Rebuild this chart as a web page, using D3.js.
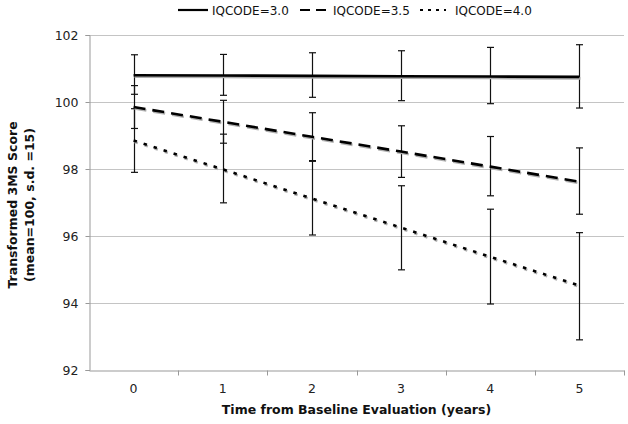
<!DOCTYPE html>
<html><head><meta charset="utf-8">
<script src="https://cdn.jsdelivr.net/npm/d3@7"></script>
<style>body{margin:0;background:#fff}svg{display:block}text{font-family:"DejaVu Sans",Verdana,sans-serif}</style>
</head><body><svg id="c" width="628" height="424"></svg>
<script>
const years = ["0","1","2","3","4","5"];
const yTicks = [92,94,96,98,100,102];
const seriesNames = ["IQCODE=3.0","IQCODE=3.5","IQCODE=4.0"];
const mean30 = [100.80,100.79,100.78,100.77,100.76,100.75];
const lo30   = [100.23,100.20,100.14,100.04,99.95,99.82];
const hi30   = [101.41,101.42,101.47,101.53,101.63,101.71];
const mean35 = [99.85,99.41,98.96,98.52,98.07,97.62];
const lo35   = [99.21,98.77,98.23,97.75,97.20,96.65];
const hi35   = [100.49,100.05,99.68,99.29,98.97,98.63];
const mean40 = [98.85,97.99,97.12,96.25,95.38,94.52];
const lo40   = [97.90,96.99,96.03,94.99,93.97,92.90];
const hi40   = [99.80,99.04,98.25,97.50,96.80,96.10];

const series = [
  {name:seriesNames[0], mean:mean30, lo:lo30, hi:hi30, dash:null},
  {name:seriesNames[1], mean:mean35, lo:lo35, hi:hi35, dash:"12,7"},
  {name:seriesNames[2], mean:mean40, lo:lo40, hi:hi40, dash:"3.5,7"}
];

const svg = d3.select("#c");
const L=89, R=624, T=35, B=370;
const x = d3.scaleBand().domain(years).range([L,R]);
const y = d3.scaleLinear().domain([92,102]).range([B,T]);

// gridlines
svg.append("g").selectAll("line").data(yTicks.filter(d=>d>92)).join("line")
  .attr("x1",L).attr("x2",R).attr("y1",d=>y(d)+0.5).attr("y2",d=>y(d)+0.5)
  .attr("stroke","#c4c4c4").attr("stroke-width",1);

// y axis
const ya = svg.append("g").attr("transform",`translate(${L+0.5},0)`)
  .call(d3.axisLeft(y).tickValues(yTicks).tickSize(4).tickPadding(7).tickFormat(d3.format("d")));
ya.select(".domain").attr("stroke","#999");
ya.selectAll(".tick line").attr("stroke","#999");
ya.selectAll(".tick text").attr("font-size",12.5).attr("fill","#222");

// x axis
const xa = svg.append("g").attr("transform",`translate(0,${B+0.5})`)
  .call(d3.axisBottom(x).tickSize(0).tickPadding(14));
xa.select(".domain").attr("stroke","#999");
xa.selectAll(".tick text").attr("font-size",12.5).attr("fill","#222");
// tick marks at band edges
const edges = years.map(d=>x(d)).concat([x(years[years.length-1])+x.bandwidth()]);
xa.append("g").selectAll("line").data(edges.slice(1)).join("line")
  .attr("x1",d=>Math.round(d)+0.5).attr("x2",d=>Math.round(d)+0.5).attr("y1",0).attr("y2",5)
  .attr("stroke","#999");

const cx = d => x(d)+x.bandwidth()/2;

// error bars
series.forEach(s=>{
  const g = svg.append("g");
  years.forEach((yr,i)=>{
    const X = Math.round(cx(yr))+0.5;
    g.append("line").attr("x1",X).attr("x2",X).attr("y1",y(s.hi[i])).attr("y2",y(s.lo[i])).attr("stroke","#111").attr("stroke-width",1.2);
    [s.hi[i],s.lo[i]].forEach(v=>g.append("line").attr("x1",X-3.5).attr("x2",X+3.5).attr("y1",y(v)).attr("y2",y(v)).attr("stroke","#111").attr("stroke-width",1.2));
  });
});

// lines with shadow
const line = d3.line().x((d,i)=>cx(years[i])).y(d=>y(d));
series.forEach(s=>{
  svg.append("path").attr("d",line(s.mean)).attr("fill","none").attr("stroke","#b0b0b0")
    .attr("stroke-width",2.6).attr("stroke-dasharray",s.dash).attr("transform","translate(1,1.5)");
  svg.append("path").attr("d",line(s.mean)).attr("fill","none").attr("stroke","#000")
    .attr("stroke-width",2.6).attr("stroke-dasharray",s.dash);
});

// legend
const leg = [{x1:178,x2:208,tx:212},{x1:300,x2:330,tx:333},{x1:420,x2:446,tx:455}];
series.forEach((s,i)=>{
  const p = leg[i];
  svg.append("line").attr("x1",p.x1).attr("x2",p.x2).attr("y1",10).attr("y2",10)
    .attr("stroke","#000").attr("stroke-width",2.2).attr("stroke-dasharray",s.dash? (i==1?"10,6":"3,5"):null);
  svg.append("text").attr("x",p.tx).attr("y",14.5).attr("font-size",12).attr("fill","#111").text(s.name);
});

// axis titles
svg.append("text").attr("x",(L+R)/2).attr("y",414).attr("text-anchor","middle")
  .attr("font-size",12.5).attr("font-weight","bold").attr("fill","#111").text("Time from Baseline Evaluation (years)");
const yt = svg.append("text").attr("transform","translate(17,205) rotate(-90)").attr("text-anchor","middle")
  .attr("font-size",12.5).attr("font-weight","bold").attr("fill","#111");
yt.append("tspan").attr("x",0).attr("dy",0).text("Transformed 3MS Score");
yt.append("tspan").attr("x",0).attr("dy",17).text("(mean=100, s.d. =15)");
</script></body></html>
